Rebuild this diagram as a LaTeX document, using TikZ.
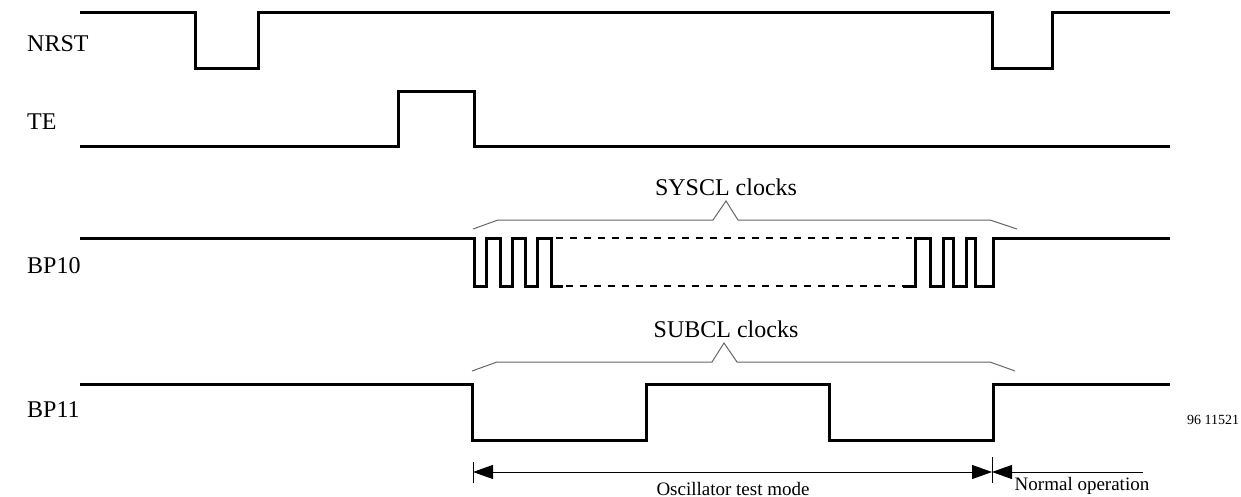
\documentclass[tikz,border=0pt]{standalone}
\usepackage{fontspec}
\setmainfont{Liberation Serif}
\usetikzlibrary{arrows.meta}
\begin{document}
\begin{tikzpicture}[x=1pt,y=-1pt,
  sig/.style={line width=3pt,line join=miter,line cap=butt},
  dsig/.style={line width=1.2pt,dash pattern=on 7pt off 7pt},
  brace/.style={line width=1pt,draw=black!60},
  dim/.style={line width=1pt},
  lbl/.style={font=\fontsize{24}{28}\selectfont,inner sep=0pt},
  small/.style={font=\fontsize{19}{22}\selectfont,inner sep=0pt},
  tiny/.style={font=\fontsize{14}{16}\selectfont,inner sep=0pt},
  tip/.style={Triangle[length=20pt,width=14pt]}]
\useasboundingbox (0,0) rectangle (1241,497);
% labels
\node[lbl,anchor=west] (lnrst) at (27,44) {NRST};
\node[lbl,anchor=west] (lte) at (27,122) {TE};
\node[lbl,anchor=west] (lbp10) at (27,266) {BP10};
\node[lbl,anchor=west] (lbp11) at (27,410) {BP11};
% NRST
\draw[sig] (80,13) -- (195,13) -- (195,69) -- (258,69) -- (258,13) -- (992,13) -- (992,69) -- (1052,69) -- (1052,13) -- (1170,13);
% TE
\draw[sig] (80,147) -- (398,147) -- (398,92) -- (474,92) -- (474,147) -- (1170,147);
% BP10
\draw[sig] (80,238) -- (474,238) -- (474,286) -- (486,286) -- (486,238) -- (500,238) -- (500,286) -- (512,286) -- (512,238) -- (525,238) -- (525,286) -- (537,286) -- (537,238) -- (551,238) -- (551,286) -- (563,286);
\draw[dsig] (556,238) -- (912,238);
\draw[dsig] (566,286) -- (903,286);
\draw[sig] (903,286) -- (915,286) -- (915,238) -- (930,238) -- (930,286) -- (943,286) -- (943,238) -- (953,238) -- (953,286) -- (966,286) -- (966,238) -- (975,238) -- (975,286) -- (993,286) -- (993,238) -- (1170,238);
% BP11
\draw[sig] (80,384) -- (472,384) -- (472,440) -- (646,440) -- (646,384) -- (829,384) -- (829,440) -- (993,440) -- (993,384) -- (1170,384);
% braces
\draw[brace] (473,229) -- (498,220) -- (713,220) -- (726,201) -- (738,220) -- (990,220) -- (1017,229);
\node[lbl] (sys) at (726,187) {SYSCL clocks};
\draw[brace] (472,371) -- (497,362) -- (712,362) -- (724,343) -- (737,362) -- (990,362) -- (1015,371);
\node[lbl] (sub) at (726,329) {SUBCL clocks};
% dimension
\coordinate (t1) at (473,472);
\coordinate (t2) at (992,472);
\coordinate (t3) at (1143,472);
\draw[dim] (473,462) -- (473,483);
\draw[dim] (992,457) -- (992,483);
\draw[dim,{Triangle[length=20pt,width=14pt]}-{Triangle[length=20pt,width=14pt]}] (t1) -- (t2);
\draw[dim,{Triangle[length=20pt,width=14pt]}-] (t2) -- (t3);
\node[small] (osc) at (733,489) {Oscillator test mode};
\node[small] (norm) at (1082,486) {Normal operation};
\node[tiny] (code) at (1213,420) {96 11521};
\end{tikzpicture}
\end{document}
